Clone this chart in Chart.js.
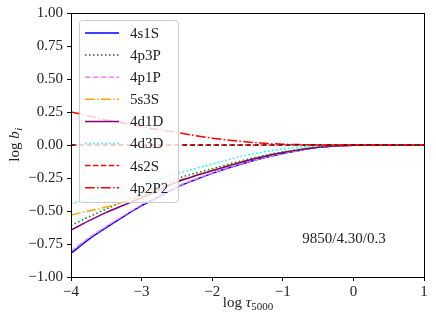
<!DOCTYPE html>
<html><head><meta charset="utf-8">
<script src="https://cdn.jsdelivr.net/npm/chart.js@4"></script>
<style>html,body{margin:0;padding:0;background:#fff}#c{display:block}</style>
</head><body>
<canvas id="c" width="436" height="322"></canvas>
<script>
const logTau = [-4, -3.75, -3.5, -3.25, -3, -2.75, -2.5, -2.25, -2, -1.75, -1.5, -1.25, -1, -0.75, -0.5, -0.25, 0, 0.25, 0.5, 0.75, 1];
const b4s1S  = [-0.82, -0.715, -0.625, -0.54, -0.46, -0.39, -0.32, -0.265, -0.215, -0.17, -0.13, -0.095, -0.065, -0.04, -0.018, -0.007, -0.002, 0, 0, 0, 0];
const b4p3P  = [-0.61, -0.545, -0.485, -0.425, -0.37, -0.31, -0.255, -0.215, -0.18, -0.143, -0.108, -0.078, -0.052, -0.031, -0.015, -0.006, -0.001, 0, 0, 0, 0];
const b4p1P  = [-0.805, -0.705, -0.617, -0.533, -0.454, -0.384, -0.315, -0.261, -0.212, -0.168, -0.128, -0.094, -0.064, -0.039, -0.018, -0.007, -0.002, 0, 0, 0, 0];
const b5s3S  = [-0.53, -0.50, -0.47, -0.43, -0.385, -0.33, -0.275, -0.232, -0.19, -0.152, -0.115, -0.084, -0.056, -0.034, -0.016, -0.006, -0.002, 0, 0, 0, 0];
const b4d1D  = [-0.645, -0.575, -0.51, -0.455, -0.40, -0.34, -0.28, -0.235, -0.195, -0.155, -0.117, -0.085, -0.057, -0.035, -0.017, -0.007, -0.002, 0, 0, 0, 0];
const b4d3D  = [-0.445, -0.41, -0.375, -0.34, -0.305, -0.262, -0.218, -0.18, -0.145, -0.108, -0.075, -0.05, -0.03, -0.016, -0.007, -0.003, 0, 0, 0, 0, 0];
const b4s2S  = [0, 0, 0, 0, 0, 0, 0, 0, 0, 0, 0, 0, 0, 0, 0, 0, 0, 0, 0, 0, 0];
const b4p2P2 = [0.25, 0.22, 0.19, 0.165, 0.14, 0.115, 0.095, 0.072, 0.052, 0.036, 0.023, 0.013, 0.006, 0.003, 0.001, 0, 0, 0, 0, 0, 0];
const zeroLine = [0, 0];
const zeroX = [-4, 1];
const xTicks = [-4, -3, -2, -1, 0, 1];
const yTicks = [-1, -0.75, -0.5, -0.25, 0, 0.25, 0.5, 0.75, 1];
const annotationText = "9850/4.30/0.3";

const series = [
  {label: "4s1S", data: b4s1S, color: "#0000ff", dash: []},
  {label: "4p3P", data: b4p3P, color: "#008000", dash: [1.5, 2.5]},
  {label: "4p1P", data: b4p1P, color: "#ee82ee", dash: [5.5, 2.4]},
  {label: "5s3S", data: b5s3S, color: "#ffa500", dash: [9.6, 2.4, 1.5, 2.4]},
  {label: "4d1D", data: b4d1D, color: "#800080", dash: []},
  {label: "4d3D", data: b4d3D, color: "#00ffff", dash: [1.5, 2.5]},
  {label: "4s2S", data: b4s2S, color: "#ff0000", dash: [5.5, 2.4]},
  {label: "4p2P2", data: b4p2P2, color: "#ff0000", dash: [9.6, 2.4, 1.5, 2.4]}
];

const SERIF = '"Liberation Serif", "DejaVu Serif", serif';
const fmt = v => { const s = Math.abs(v).toFixed(2); return v < 0 ? "\u2212" + s : s; };
const fmtX = v => v < 0 ? "\u2212" + Math.abs(v) : String(v);

const datasets = series.map((s, i) => ({
  label: s.label,
  data: logTau.map((x, k) => ({x: x, y: s.data[k]})),
  borderColor: s.color,
  borderDash: s.dash,
  borderWidth: 1.5,
  pointRadius: 0,
  fill: false,
  cubicInterpolationMode: 'monotone',
  order: 20 - i
}));
datasets.push({
  label: "_zero",
  data: zeroX.map((x, k) => ({x: x, y: zeroLine[k]})),
  borderColor: "#000000",
  borderDash: [4, 4],
  borderWidth: 1,
  pointRadius: 0,
  fill: false,
  order: 0
});

const decor = {
  id: 'decor',
  afterDraw(chart) {
    const ctx = chart.ctx;
    const a = chart.chartArea;
    ctx.save();
    ctx.strokeStyle = '#000';
    ctx.lineWidth = 1;
    ctx.setLineDash([]);
    ctx.strokeRect(Math.round(a.left) + 0.5, Math.round(a.top) + 0.5, Math.round(a.right - a.left), Math.round(a.bottom - a.top));
    const bx = 79.5, by = 20.5, bw = 99, bh = 182;
    ctx.beginPath();
    ctx.roundRect(bx, by, bw, bh, 3);
    ctx.fillStyle = 'rgba(255,255,255,0.8)';
    ctx.fill();
    ctx.strokeStyle = '#cccccc';
    ctx.stroke();
    ctx.font = '15px ' + SERIF;
    ctx.textBaseline = 'middle';
    ctx.textAlign = 'left';
    series.forEach((s, i) => {
      const y = 33 + i * 22.1;
      ctx.beginPath();
      ctx.strokeStyle = s.color;
      ctx.lineWidth = 1.5;
      ctx.setLineDash(s.dash);
      ctx.moveTo(85, y);
      ctx.lineTo(119, y);
      ctx.stroke();
      ctx.setLineDash([]);
      ctx.fillStyle = '#222';
      ctx.fillText(s.label, 130, y + 1);
    });
    ctx.font = '15px ' + SERIF;
    ctx.fillStyle = '#222';
    ctx.textAlign = 'center';
    ctx.fillText(annotationText, 344, 239);
    ctx.textAlign = 'left';
    ctx.textBaseline = 'alphabetic';
    const f1 = '15px ' + SERIF, fi = 'italic 15px ' + SERIF, fs = '11px ' + SERIF;
    ctx.font = f1; const w1 = ctx.measureText('log ').width;
    ctx.font = fi; const w2 = ctx.measureText('\u03c4').width;
    ctx.font = fs; const w3 = ctx.measureText('5000').width;
    let x0 = 248 - (w1 + w2 + w3) / 2, yb = 307;
    ctx.font = f1; ctx.fillText('log ', x0, yb);
    ctx.font = fi; ctx.fillText('\u03c4', x0 + w1, yb);
    ctx.font = fs; ctx.fillText('5000', x0 + w1 + w2, yb + 3);
    ctx.save();
    ctx.translate(19, 145);
    ctx.rotate(-Math.PI / 2);
    ctx.font = f1; const v1 = ctx.measureText('log ').width;
    ctx.font = fi; const v2 = ctx.measureText('b').width;
    ctx.font = 'italic 11px ' + SERIF; const v3 = ctx.measureText('i').width;
    let y0 = -(v1 + v2 + v3) / 2;
    ctx.font = f1; ctx.fillText('log ', y0, 0);
    ctx.font = fi; ctx.fillText('b', y0 + v1, 0);
    ctx.font = 'italic 11px ' + SERIF; ctx.fillText('i', y0 + v1 + v2 + 0.5, 3);
    ctx.restore();
    ctx.restore();
  }
};

new Chart(document.getElementById('c'), {
  type: 'line',
  data: {datasets: datasets},
  options: {
    responsive: false,
    animation: false,
    events: [],
    layout: {padding: {left: 0, right: 12, top: 13, bottom: 0}},
    plugins: {legend: {display: false}, tooltip: {enabled: false}},
    scales: {
      x: {
        type: 'linear', min: -4, max: 1,
        afterBuildTicks: s => { s.ticks = xTicks.map(v => ({value: v})); },
        afterFit: s => { s.height = 45; },
        grid: {drawOnChartArea: false, tickLength: 4, color: '#000', tickColor: '#000'},
        border: {display: true, color: '#000'},
        ticks: {callback: v => fmtX(v), color: '#222', font: {family: SERIF, size: 15}, padding: 2, maxRotation: 0}
      },
      y: {
        type: 'linear', min: -1, max: 1,
        afterBuildTicks: s => { s.ticks = yTicks.map(v => ({value: v})); },
        afterFit: s => { s.width = 71; },
        grid: {drawOnChartArea: false, tickLength: 4, color: '#000', tickColor: '#000'},
        border: {display: true, color: '#000'},
        ticks: {callback: v => fmt(v), color: '#222', font: {family: SERIF, size: 15}, padding: 4}
      }
    }
  },
  plugins: [decor]
});
</script>
</body></html>
